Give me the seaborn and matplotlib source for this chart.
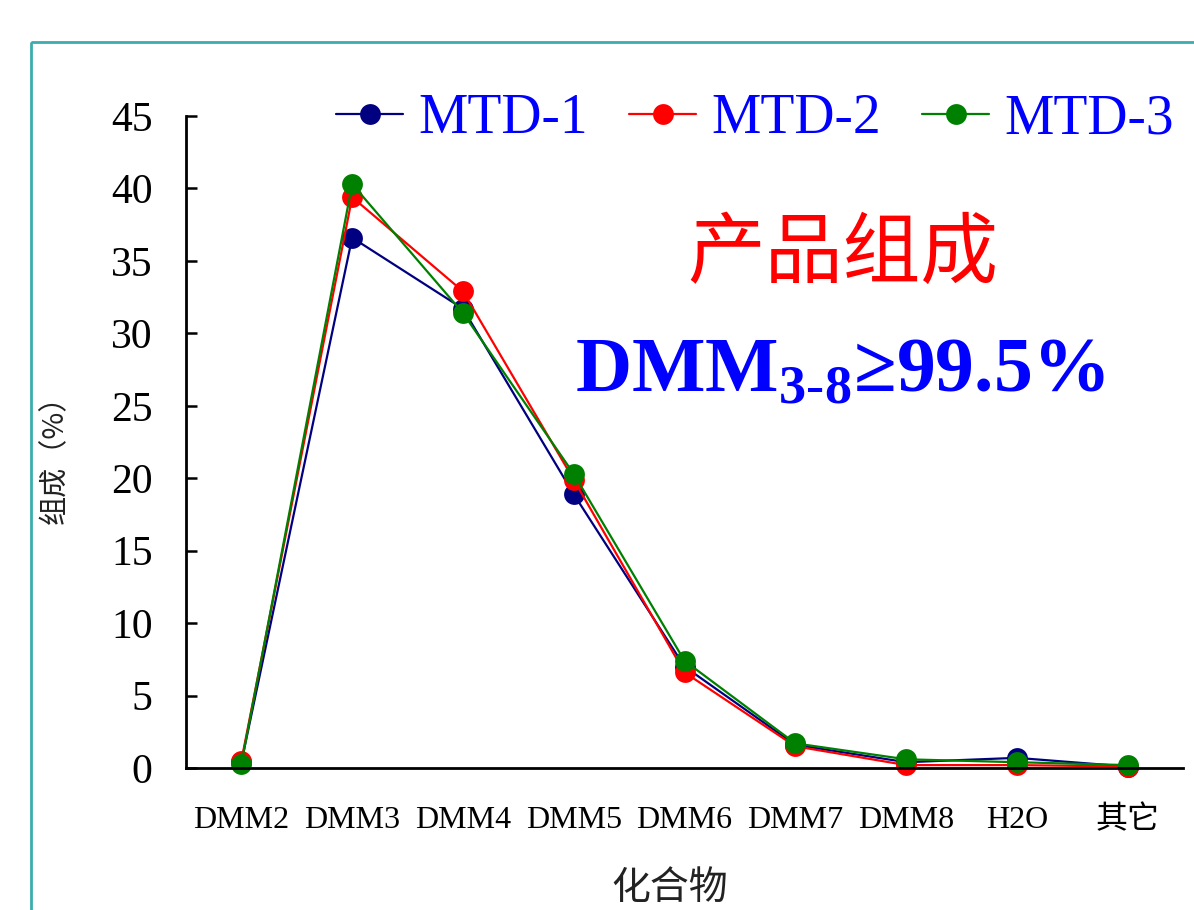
import pandas as pd
import matplotlib
matplotlib.use("Agg")
import matplotlib.pyplot as plt
from matplotlib.patches import Rectangle
from matplotlib.ticker import FixedLocator
import seaborn as sns

compounds = ["DMM2", "DMM3", "DMM4", "DMM5", "DMM6", "DMM7", "DMM8", "H2O", "其它"]
mtd1 = [0.4, 36.6, 31.7, 18.9, 7.0, 1.6, 0.4, 0.7, 0.1]
mtd2 = [0.5, 39.4, 32.9, 19.9, 6.6, 1.5, 0.2, 0.2, 0.1]
mtd3 = [0.3, 40.3, 31.4, 20.3, 7.4, 1.7, 0.6, 0.4, 0.2]
series_names = ["MTD-1", "MTD-2", "MTD-3"]
colors = ["#000080", "#ff0000", "#008000"]

rows = []
for name, vals in zip(series_names, [mtd1, mtd2, mtd3]):
    for c, v in zip(compounds, vals):
        rows.append({"compound": c, "value": v, "series": name})
df = pd.DataFrame(rows)

sns.set_style("white")
plt.rcParams["font.family"] = ["Liberation Serif", "Noto Sans CJK SC", "DejaVu Sans"]
plt.rcParams["mathtext.fontset"] = "custom"
plt.rcParams["mathtext.rm"] = "Liberation Serif"
plt.rcParams["mathtext.bf"] = "Liberation Serif:bold"

W, H = 1194, 910
fig = plt.figure(figsize=(W / 100, H / 100), dpi=100)
fig.set_facecolor("w")

# teal frame
fig.patches.append(Rectangle((31 / W, 1 - 42 / H), 2, -2, transform=fig.transFigure,
                             fill=False, edgecolor="#3cadad", linewidth=2, zorder=0))

ax = fig.add_axes([186 / W, 1 - 768 / H, (1183 - 186) / W, (768 - 116) / H])
sns.lineplot(data=df, x="compound", y="value", hue="series", palette=colors,
             marker="o", markersize=15, markeredgewidth=0, linewidth=1.6,
             sort=False, ax=ax)
ax.get_legend().remove()

ax.set_xlim(-0.5, 8.5)
ax.set_ylim(0, 45)
ax.set_yticks(range(0, 46, 5))
ax.set_xticks(range(len(compounds)))
ax.set_xticklabels(compounds)
ax.xaxis.set_minor_locator(FixedLocator([i + 0.5 for i in range(8)]))
ax.tick_params(axis="x", which="major", length=0, pad=27, labelsize=23, labelcolor="black")
ax.tick_params(axis="x", which="minor", direction="in", length=8, width=1.8, color="black")
ax.tick_params(axis="y", direction="in", length=8, width=1.8, color="black",
               pad=24, labelsize=30, left=True, labelcolor="black")
ax.set_xlabel("")
ax.set_ylabel("")
for s in ["top", "right"]:
    ax.spines[s].set_visible(False)
for s in ["left", "bottom"]:
    ax.spines[s].set_color("black")
    ax.spines[s].set_linewidth(2)
for ln in ax.lines:
    ln.set_clip_on(False)

# legend
handles, _ = ax.get_legend_handles_labels()
leg = fig.legend(handles[:3], series_names, loc="center", ncol=3,
                 bbox_to_anchor=(755 / W, 1 - 119 / H), frameon=False,
                 prop={"family": "Liberation Serif", "size": 40},
                 handlelength=1.2, handletextpad=0.27, columnspacing=0.75,
                 borderpad=0)
for t in leg.get_texts():
    t.set_color("#0000ff")

# annotations
fig.text(843 / W, 1 - 255 / H, "产品组成", color="#ff0000", fontsize=56,
         family=["Noto Sans CJK SC"], ha="center", va="center")
fig.text(840 / W, 1 - 392 / H, r"DMM$_{\mathbf{3\text{-}8}}$≥99.5%", color="#0000ff",
         fontsize=56, fontweight="bold", family=["Liberation Serif", "DejaVu Serif"],
         ha="center", va="baseline")

fig.text(55 / W, 1 - 452 / H, "组成（%）", rotation=90, fontsize=21,
         family=["Noto Sans CJK SC"], ha="center", va="center", color="#222222")
fig.text(670 / W, 1 - 888 / H, "化合物", fontsize=28,
         family=["Noto Sans CJK SC"], ha="center", va="center", color="#222222")

fig.savefig("out.png", dpi=100, facecolor="w")
